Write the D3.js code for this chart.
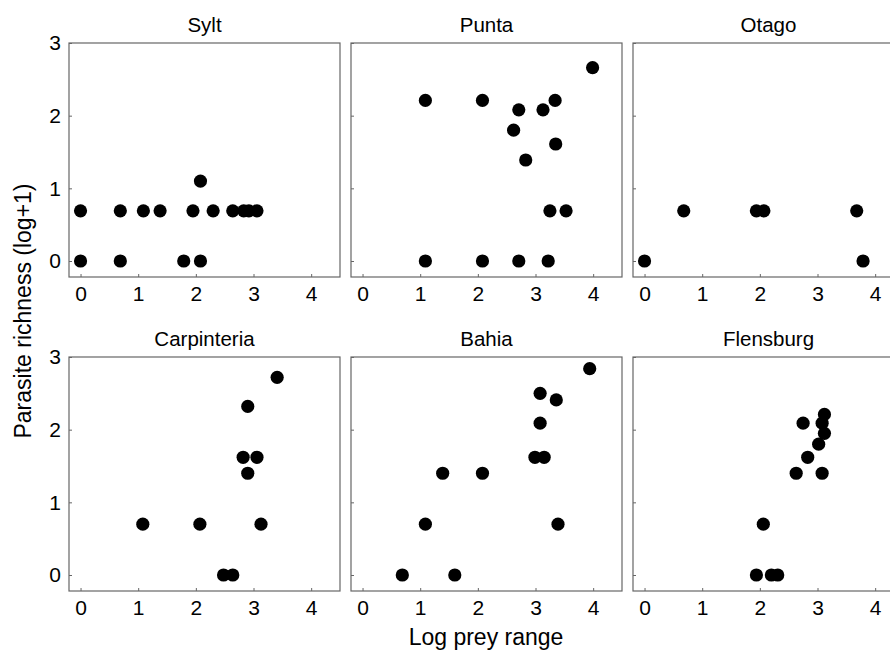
<!DOCTYPE html>
<html>
<head>
<meta charset="utf-8">
<script src="https://cdn.jsdelivr.net/npm/d3@7"></script>
<style>
  html, body { margin: 0; padding: 0; background: #fff; }
  svg { display: block; font-family: "Liberation Sans", Arial, sans-serif; }
</style>
</head>
<body>
<div id="chart"></div>
<script>
// ---- Data ----
const sites = ["Sylt", "Punta", "Otago", "Carpinteria", "Bahia", "Flensburg"];

const syltX = [0, 0, 0.69, 0.69, 1.09, 1.38, 1.79, 1.95, 2.08, 2.08, 2.30, 2.64, 2.83, 2.92, 3.06];
const syltY = [0.69, 0, 0.69, 0, 0.69, 0.69, 0, 0.69, 1.10, 0, 0.69, 0.69, 0.69, 0.69, 0.69];

const puntaX = [1.09, 2.08, 2.71, 3.13, 3.34, 3.99, 2.62, 3.35, 2.83, 3.25, 3.53, 1.09, 2.08, 2.71, 3.22];
const puntaY = [2.21, 2.21, 2.08, 2.08, 2.21, 2.66, 1.80, 1.61, 1.39, 0.69, 0.69, 0, 0, 0, 0];

const otagoX = [0, 0.68, 1.94, 2.07, 3.68, 3.79];
const otagoY = [0, 0.69, 0.69, 0.69, 0.69, 0];

const carpinteriaX = [1.08, 2.07, 3.13, 2.48, 2.64, 2.90, 2.82, 3.06, 2.90, 3.41];
const carpinteriaY = [0.70, 0.70, 0.70, 0, 0, 1.40, 1.62, 1.62, 2.32, 2.72];

const bahiaX = [0.69, 1.60, 1.09, 3.39, 1.39, 2.08, 2.99, 3.15, 3.08, 3.08, 3.36, 3.94];
const bahiaY = [0, 0, 0.70, 0.70, 1.40, 1.40, 1.62, 1.62, 2.09, 2.50, 2.41, 2.84];

const flensburgX = [1.94, 2.20, 2.31, 2.06, 2.63, 3.08, 2.83, 3.02, 3.12, 3.08, 2.75, 3.12];
const flensburgY = [0, 0, 0, 0.70, 1.40, 1.40, 1.62, 1.80, 1.95, 2.09, 2.09, 2.21];

const xTicks = [0, 1, 2, 3, 4];
const yTicks = [0, 1, 2, 3];
const xLabel = "Log prey range";
const yLabel = "Parasite richness (log+1)";

const siteX = [syltX, puntaX, otagoX, carpinteriaX, bahiaX, flensburgX];
const siteY = [syltY, puntaY, otagoY, carpinteriaY, bahiaY, flensburgY];

// ---- Layout ----
const W = 890, H = 650;
const colLeft = [69, 351, 633];
const rowTop = [43, 357];
const pw = 271, ph = 234;
const frameColor = "#666";

const svg = d3.select("#chart").append("svg")
  .attr("width", W).attr("height", H);

const x = d3.scaleLinear().domain([-0.2, 4.5]).range([0, pw]);
const y = d3.scaleLinear().domain([-0.22, 3]).range([ph, 0]);

sites.forEach((name, i) => {
  const col = i % 3, row = Math.floor(i / 3);
  const g = svg.append("g")
    .attr("transform", `translate(${colLeft[col]},${rowTop[row]})`);

  // frame
  g.append("rect")
    .attr("x", 0).attr("y", 0).attr("width", pw).attr("height", ph)
    .attr("fill", "none").attr("stroke", frameColor).attr("stroke-width", 1.2);

  // x axis (inward ticks)
  const xa = g.append("g").attr("transform", `translate(0,${ph})`)
    .call(d3.axisBottom(x).tickValues(xTicks).tickSize(-3).tickPadding(9).tickFormat(d3.format("d")));
  xa.select(".domain").remove();
  xa.selectAll(".tick line").attr("stroke", frameColor);
  xa.selectAll("text").attr("font-size", 21).attr("fill", "#000")
    .attr("font-family", "Liberation Sans, Arial, sans-serif");

  // y axis (inward ticks)
  const ya = g.append("g")
    .call(d3.axisLeft(y).tickValues(yTicks).tickSize(-3).tickPadding(8).tickFormat(d3.format("d")));
  ya.select(".domain").remove();
  ya.selectAll(".tick line").attr("stroke", frameColor);
  ya.selectAll("text").attr("font-size", 21).attr("fill", "#000")
    .attr("font-family", "Liberation Sans, Arial, sans-serif");
  if (col !== 0) ya.selectAll("text").remove();

  // title
  g.append("text")
    .attr("x", pw / 2).attr("y", -11)
    .attr("text-anchor", "middle")
    .attr("font-size", 20.5).attr("fill", "#000")
    .text(name);

  // points
  const pts = siteX[i].map((v, k) => ({ x: v, y: siteY[i][k] }));
  g.selectAll("circle").data(pts).enter().append("circle")
    .attr("cx", d => x(d.x)).attr("cy", d => y(d.y))
    .attr("r", 6.6).attr("fill", "#000");
});

// axis labels
svg.append("text")
  .attr("x", 486).attr("y", 645)
  .attr("text-anchor", "middle")
  .attr("font-size", 23).attr("fill", "#000")
  .text(xLabel);

svg.append("text")
  .attr("transform", "translate(31,311) rotate(-90)")
  .attr("text-anchor", "middle")
  .attr("font-size", 23).attr("fill", "#000")
  .text(yLabel);
</script>
</body>
</html>
